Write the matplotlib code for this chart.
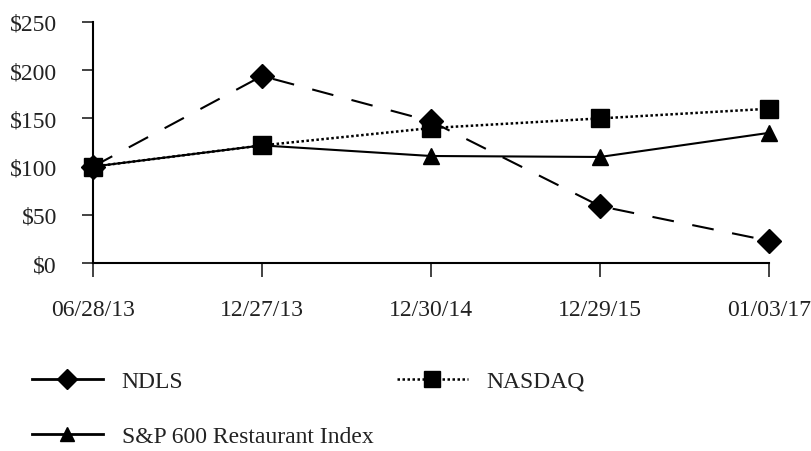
import matplotlib.pyplot as plt
from matplotlib.lines import Line2D

plt.rcParams['font.family'] = ['Liberation Serif', 'DejaVu Serif']

dates = ['06/28/13', '12/27/13', '12/30/14', '12/29/15', '01/03/17']
ndls = [100, 194, 147, 59, 23]
nasdaq = [100, 122, 140, 150, 160]
sp600 = [100, 122, 111, 110, 135]
yticks = [0, 50, 100, 150, 200, 250]

fs = 17
fig = plt.figure(figsize=(8.12, 4.52), dpi=100)
ax = fig.add_axes([93 / 812, 1 - 264 / 452, 676 / 812, 241 / 452])

x = range(len(dates))
ax.plot(x, ndls, color='black', lw=1.5, dashes=(10.5, 9), marker='D', ms=12, zorder=3, clip_on=False)
ax.plot(x, nasdaq, color='black', lw=1.8, dashes=(1, 1), marker='s', ms=13, zorder=3, clip_on=False)
ax.plot(x, sp600, color='black', lw=1.5, ls='-', marker='^', ms=11.5, zorder=3, clip_on=False)

ax.set_xlim(0, len(dates) - 1)
ax.set_ylim(0, 250)
ax.set_xticks(list(x))
ax.set_xticklabels(dates)
ax.set_yticks(yticks)
ax.set_yticklabels(['$' + str(v) for v in yticks])
for s in ['top', 'right']:
    ax.spines[s].set_visible(False)
for s in ['left', 'bottom']:
    ax.spines[s].set_linewidth(1.5)
ax.tick_params(axis='y', length=8, width=1.2, pad=18, labelsize=fs, colors='#222222')
ax.tick_params(axis='x', length=10, width=1.2, pad=16, labelsize=fs, colors='#222222')

h1 = Line2D([], [], color='black', lw=2, marker='D', ms=10.5)
h2 = Line2D([], [], color='black', lw=2, marker='^', ms=9.5)
h3 = Line2D([], [], color='black', lw=1.8, dashes=(1, 1), marker='s', ms=12)

opts = dict(frameon=False, fontsize=fs, handlelength=3.0, handletextpad=0.8,
            borderpad=0, borderaxespad=0, labelcolor='#222222')
fig.legend([h1], ['NDLS'], loc='center left', bbox_to_anchor=(32 / 812, 1 - 382 / 452), **opts)
fig.legend([h2], ['S&P 600 Restaurant Index'], loc='center left', bbox_to_anchor=(32 / 812, 1 - 437 / 452), **opts)
fig.legend([h3], ['NASDAQ'], loc='center left', bbox_to_anchor=(397 / 812, 1 - 382 / 452), **opts)

fig.savefig('out.png', dpi=100, facecolor='white')
